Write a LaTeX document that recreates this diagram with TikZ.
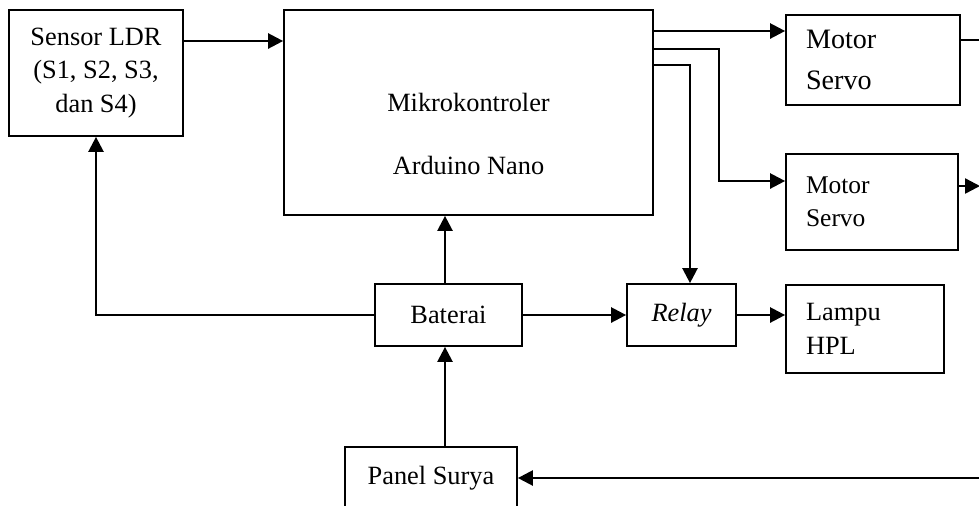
\documentclass[tikz,border=0pt]{standalone}
\usepackage{fontspec}
\setmainfont{Liberation Serif}
\usepackage{tikz}
\usetikzlibrary{calc, positioning, arrows.meta}

\begin{document}
\begin{tikzpicture}[x=0.02cm, y=-0.02cm,
    box/.style={draw, line width=1pt, inner sep=0pt, align=center, font=\fontsize{15}{19}\selectfont},
    arr/.style={line width=1.35pt, -{Triangle[length=8.5pt,width=8.5pt]}},
    wire/.style={line width=1.35pt}]
    \useasboundingbox (0,0) rectangle (979,505);
    \clip (0,0) rectangle (979,505);

    % blocks
    \node[box, minimum width=3.48cm, minimum height=2.52cm] (sensor) at (96,73) {Sensor LDR\\(S1, S2, S3,\\dan S4)};
    \node[box, minimum width=7.38cm, minimum height=4.10cm] (mcu) at (468.5,112.5) {};
    \node[align=center, font=\fontsize{15}{35.7}\selectfont] (mcuText) at (468.5,134) {Mikrokontroler\\Arduino Nano};
    \node[box, minimum width=3.48cm, minimum height=1.80cm, text width=2.68cm, align=left, font=\fontsize{16}{23}\selectfont] (servoA) at (873,60) {Motor\\Servo};
    \node[box, minimum width=3.44cm, minimum height=1.92cm, text width=2.64cm, align=left, font=\fontsize{14.5}{19}\selectfont] (servoB) at (872,202) {Motor\\Servo};
    \node[box, minimum width=2.94cm, minimum height=1.24cm] (bat) at (448.5,315) {Baterai};
    \node[box, minimum width=2.18cm, minimum height=1.24cm] (relay) at (681.5,315) {\textit{Relay}};
    \node[box, minimum width=3.16cm, minimum height=1.76cm, text width=2.36cm, align=left] (lamp) at (865,329) {Lampu\\HPL};
    \node[box, minimum width=3.44cm, minimum height=1.24cm, anchor=north] (panel) at (431,446) {Panel Surya};

    % free ends at the right border
    \coordinate (outA) at (979,40);
    \coordinate (outB) at (980,186);
    \coordinate (inP) at (979,478);
    \coordinate (bendB) at (719,49);

    % connectors
    \draw[arr] (sensor.east |- 0,41) -- (mcu.west |- 0,41);
    \draw[arr] (mcu.east |- 0,31) -- (servoA.west |- 0,31);
    \draw[arr] (mcu.east |- 0,49) -- (bendB) |- (servoB.west |- 0,181);
    \draw[arr] (mcu.east |- 0,65) -| ([xshift=0.17cm]relay.north);
    \draw[arr] ([xshift=-0.07cm]bat.north) -- ([xshift=-0.07cm]bat.north |- mcu.south);
    \draw[arr] (bat.east) -- (relay.west);
    \draw[arr] (relay.east) -- (lamp.west |- relay.east);
    \draw[arr] (bat.west) -| (sensor.south);
    \draw[arr] ([xshift=-0.07cm]bat.south |- panel.north) -- ([xshift=-0.07cm]bat.south);
    \draw[wire] (servoA.east |- outA) -- (outA);
    \draw[arr] (servoB.east |- outB) -- (outB);
    \draw[arr] (inP) -- (panel.east |- inP);
\end{tikzpicture}
\end{document}
